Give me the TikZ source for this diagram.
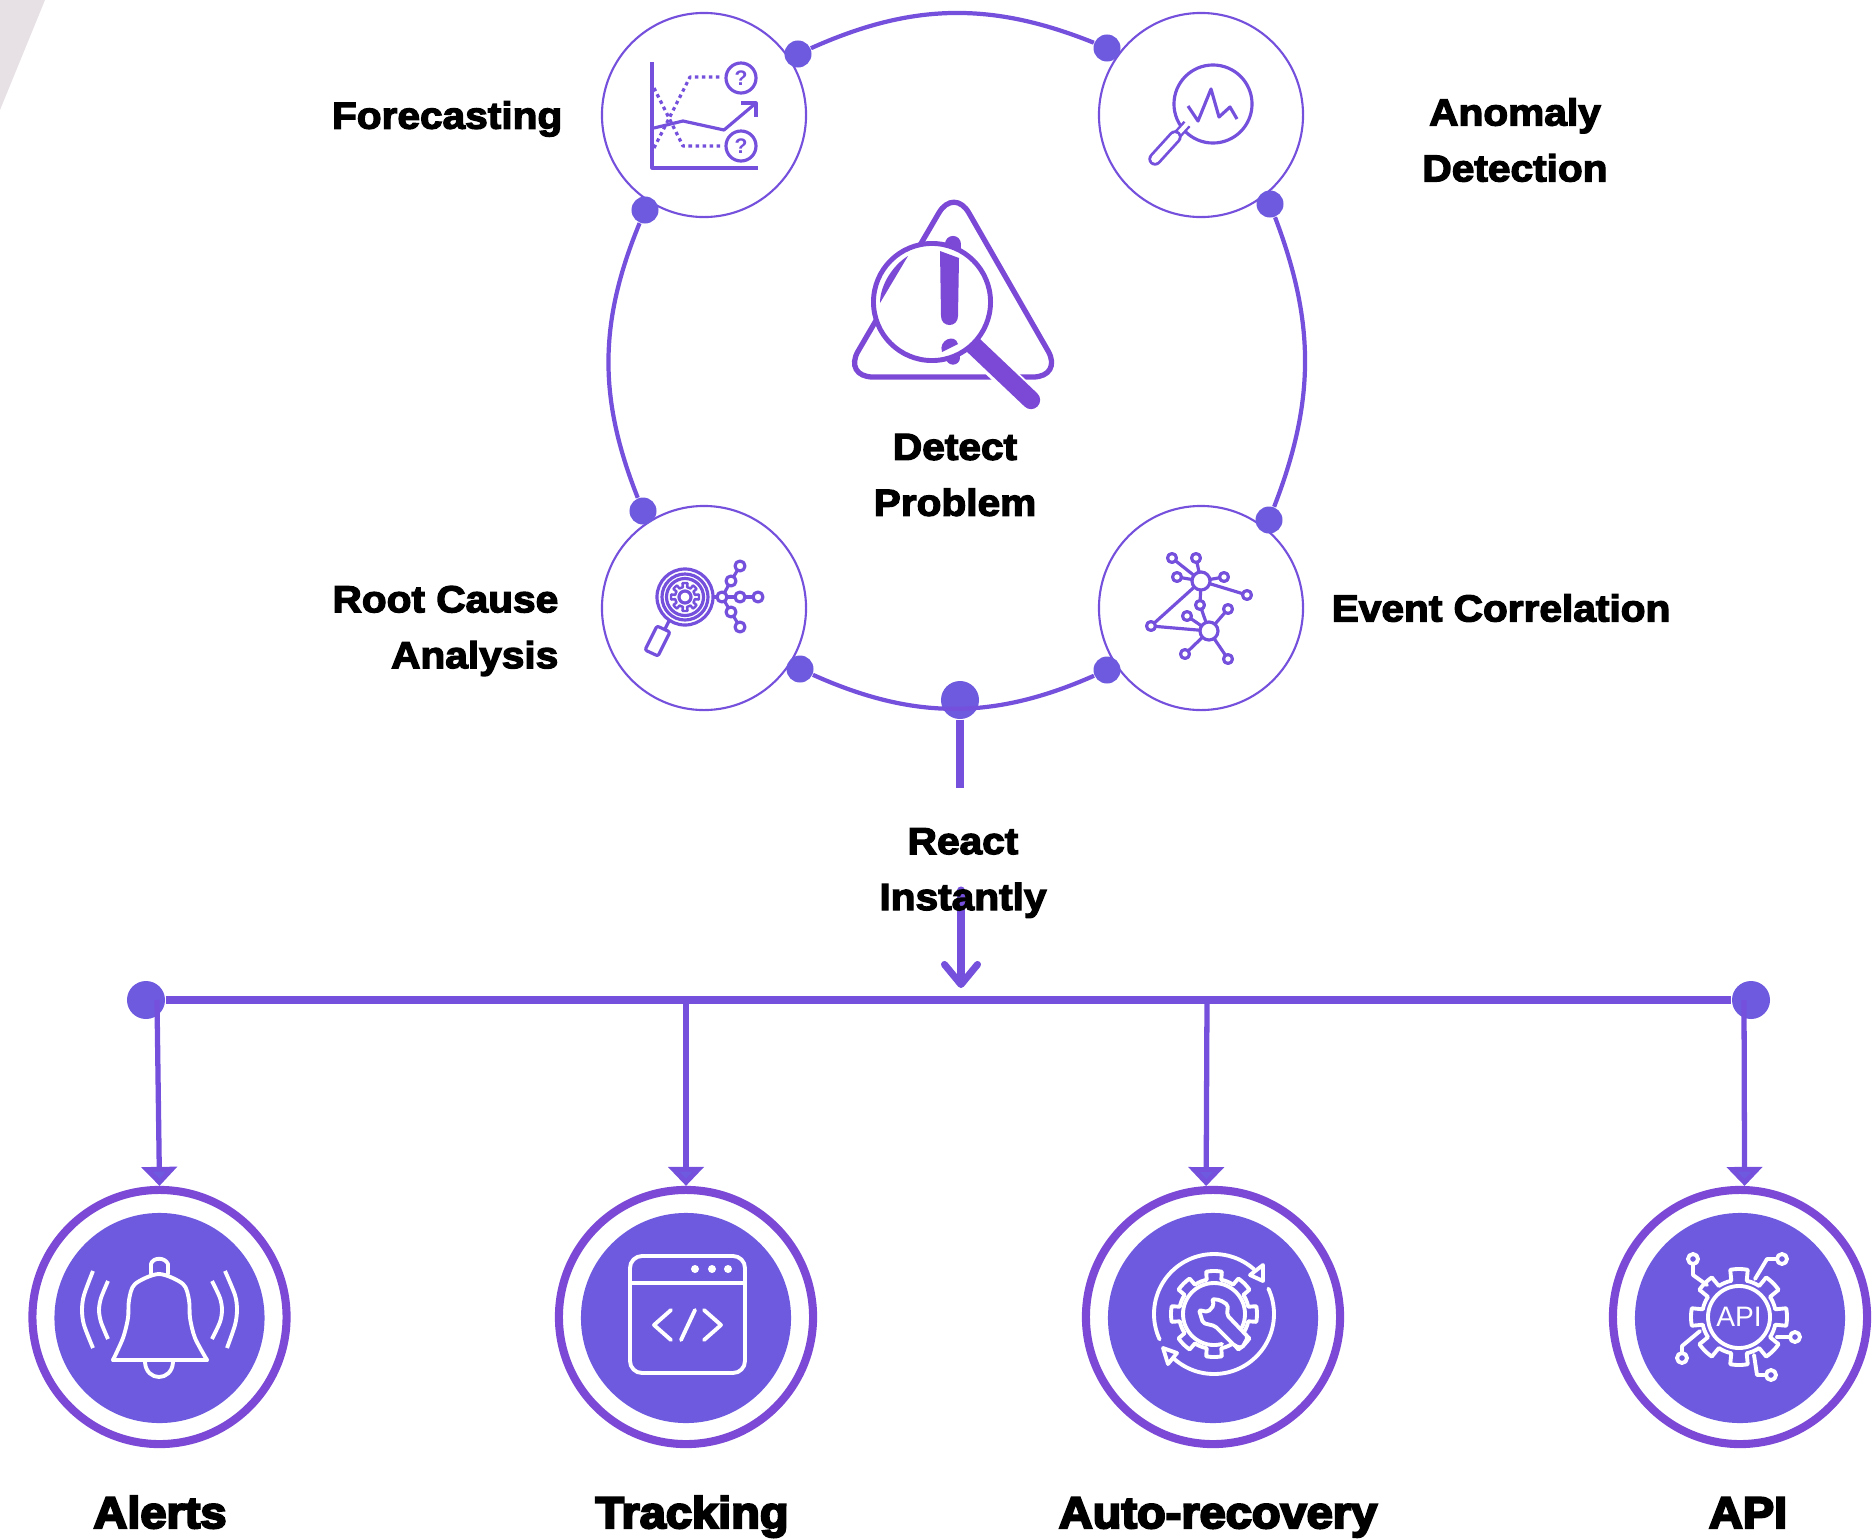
\documentclass[tikz,border=0pt]{standalone}
\usepackage{fontspec}
\usepackage{amssymb, amsmath}
\usepackage{tikz}
\usetikzlibrary{arrows.meta}
\setmainfont{Liberation Sans}
\newfontfamily\labelfont{Liberation Sans}[BoldFeatures={FakeBold=3.5,FakeStretch=1.08}]
\newfontfamily\bigfont{Liberation Sans}[BoldFeatures={FakeBold=5,FakeStretch=1.06}]
\definecolor{dotpurple}{HTML}{6E5ADF}
\definecolor{ringpurple}{HTML}{7B49D5}
\definecolor{linepurple}{HTML}{7450DC}
\definecolor{smudge}{HTML}{E7E1E5}
\tikzset{
  smallring/.style={circle, draw=linepurple, line width=0.6pt, fill=white, minimum size=2.04cm, inner sep=0},
  junction/.style={circle, fill=dotpurple, minimum size=0.27cm, inner sep=0},
  bigjunction/.style={circle, fill=dotpurple, minimum size=0.38cm, inner sep=0},
  bigring/.style={circle, draw=ringpurple, line width=2.3pt, fill=white, minimum size=2.54cm, inner sep=0},
  bigdisc/.style={circle, fill=dotpurple, minimum size=2.1cm, inner sep=0},
  arcline/.style={draw=linepurple, line width=1.2pt},
  busline/.style={draw=linepurple, line width=2pt},
  droparrow/.style={draw=linepurple, line width=1.5pt, -{Triangle[width=0.35cm,length=0.19cm,fill=dotpurple]}},
  iconline/.style={draw=linepurple, line width=0.9pt, line join=round},
  iconwhite/.style={draw=white, line width=1.1pt, line join=round, line cap=round},
  label/.style={font=\labelfont\bfseries\fontsize{10.7}{15.9}\selectfont, text=black, inner sep=0, align=center},
  biglabel/.style={font=\bigfont\bfseries\fontsize{12.6}{15}\selectfont, text=black, inner sep=0, anchor=base},
}
\newcommand{\gearcurve}[6]{\draw[#1] plot[domain=0:360,samples=241] ({#2+(#4+(#5-#4)*(cos(8*\x)>0))*cos(\x)},{#3+(#4+(#5-#4)*(cos(8*\x)>0))*sin(\x)}) -- cycle;}
\begin{document}
\begin{tikzpicture}[x=0.01cm, y=-0.01cm]
\useasboundingbox (0,0) rectangle (1875,1539);
\fill[smudge] (0,0) -- (45,0) -- (0,110) -- cycle;

% top ring
\node[smallring] (forecast) at (704,115) {};
\node[smallring] (anomaly) at (1201,115) {};
\node[smallring] (rootcause) at (704,608) {};
\node[smallring] (event) at (1201,608) {};
\node[junction] (dotA) at (798,54) {};
\node[junction] (dotB) at (1107,48) {};
\node[junction] (dotC) at (1270,204) {};
\node[junction] (dotD) at (1269,520) {};
\node[junction] (dotE) at (1107,670) {};
\node[junction] (dotF) at (800,669) {};
\node[junction] (dotG) at (643,511) {};
\node[junction] (dotH) at (645,210) {};
\node[bigjunction] (dotMain) at (960,700) {};
\draw[arcline] (dotA) to[bend left=23] (dotB);
\draw[arcline] (dotC) to[bend left=21] (dotD);
\draw[arcline] (dotE) to[bend left=24] (dotF);
\draw[arcline] (dotG) to[bend left=22] (dotH);

% stem and bus
\coordinate (stemEnd) at (960,788);
\coordinate (reactTop) at (961,890);
\coordinate (reactTip) at (961,988);
\draw[busline] (dotMain) -- (stemEnd);
\draw[busline, line cap=round, -{Straight Barb[round,length=0.2cm,width=0.33cm]}] (reactTop) -- (reactTip);
\node[bigjunction] (busLeft) at (146,1000) {};
\node[bigjunction] (busRight) at (1751,1000) {};
\draw[busline] (busLeft) -- (busRight);

% bottom row
\node[bigring] (alerts) at (159.5,1317) {};
\node[bigring] (tracking) at (686,1317) {};
\node[bigring] (recovery) at (1213,1317) {};
\node[bigring] (api) at (1740,1317) {};
\node[bigdisc] (alertsDisc) at (159.5,1318) {};
\node[bigdisc] (trackingDisc) at (686,1318) {};
\node[bigdisc] (recoveryDisc) at (1213,1318) {};
\node[bigdisc] (apiDisc) at (1740,1318) {};
\coordinate (tapA) at (157,1000);
\coordinate (tapB) at (686,1000);
\coordinate (tapC) at (1207,1000);
\coordinate (tapD) at (1744,1000);
\draw[droparrow] (tapA) -- (alerts.north);
\draw[droparrow] (tapB) -- (tracking.north);
\draw[droparrow] (tapC) -- (recovery.93);
\draw[droparrow] (tapD) -- (api.88);

% forecasting icon
\draw[iconline] (652,62) -- (652,168) -- (758,168);
\draw[iconline] (654,128) -- (683,121) -- (724,130) -- (756,103);
\draw[iconline] (741,103) -- (756,103) -- (756,117);
\draw[iconline, dash pattern=on 1pt off 1pt] (654,148) -- (690,77) -- (722,77);
\draw[iconline, dash pattern=on 1pt off 1pt] (654,88) -- (683,146) -- (722,146);
\draw[iconline] (741,78) circle (0.15cm);
\draw[iconline] (741,146) circle (0.15cm);
\node[text=linepurple, font=\bfseries\fontsize{6}{6}\selectfont, inner sep=0] (askA) at (741,78) {?};
\node[text=linepurple, font=\bfseries\fontsize{6}{6}\selectfont, inner sep=0] (askB) at (741,146) {?};

% anomaly icon
\draw[iconline] (1213,104) circle (0.39cm);
\draw[iconline] (1188,106) -- (1198,121) -- (1211,89) -- (1219,117) -- (1230,107) -- (1237,119);
\draw[draw=linepurple, line width=2.6pt] (1187,124) -- (1178,134);
\draw[draw=white, line width=1.2pt] (1188,123) -- (1177,135);
\draw[draw=linepurple, line width=3.8pt, line cap=round] (1175,137) -- (1155,159);
\draw[draw=white, line width=2.2pt, line cap=round] (1175,137) -- (1155,159);

% centre warning icon
\draw[draw=ringpurple, line width=1.5pt, rounded corners=0.3cm] (954,187) -- (1063,377) -- (843,377) -- cycle;
\draw[draw=ringpurple, line width=4.6pt, line cap=round] (953,244) -- (953,260);
\draw[draw=ringpurple, line width=3.8pt, line cap=round] (953,345) -- (953,358);
\draw[draw=white, line width=6.6pt] (980,353) -- (1024,394);
\draw[draw=ringpurple, line width=5.2pt, line cap=round] (972,344) -- (1031,400);
\draw[draw=ringpurple, line width=1.4pt, fill=white] (932,302) circle (0.585cm);
\fill[ringpurple] (908,256) .. controls (893,265) and (880,285) .. (880,303) -- cycle;
\fill[ringpurple] (940,251) -- (959,258) -- (958,316) .. controls (958,328) and (941,328) .. (941,316) -- cycle;
\fill[ringpurple] (942,352) .. controls (938,340) and (955,333) .. (958,344) -- cycle;

% root cause icon
\draw[iconline] (685,597) circle (0.28cm);
\draw[iconline] (685,597) circle (0.23cm);
\draw[iconline] (685,597) circle (0.185cm);
\gearcurve{iconline, line width=0.7pt}{685}{597}{10}{14}{}
\draw[iconline] (685,597) circle (0.06cm);
\draw[iconline] (670,619) -- (665,629);
\draw[iconline, rounded corners=0.02cm] (657,626) -- (670,632) -- (658,656) -- (645,650) -- cycle;
\draw[iconline] (712,597) -- (758,597);
\draw[iconline] (722,597) -- (731,581) -- (740,566);
\draw[iconline] (722,597) -- (731,612) -- (740,627);
\draw[iconline, fill=white] (722,597) circle (0.05cm);
\draw[iconline, fill=white] (740,597) circle (0.05cm);
\draw[iconline, fill=white] (758,597) circle (0.05cm);
\draw[iconline, fill=white] (731,581) circle (0.05cm);
\draw[iconline, fill=white] (740,566) circle (0.05cm);
\draw[iconline, fill=white] (731,612) circle (0.05cm);
\draw[iconline, fill=white] (740,627) circle (0.05cm);

% event correlation icon
\draw[iconline] (1201,581) -- (1172,558);
\draw[iconline] (1201,581) -- (1196,558);
\draw[iconline] (1201,581) -- (1177,577);
\draw[iconline] (1201,581) -- (1224,577);
\draw[iconline] (1201,581) -- (1247,595);
\draw[iconline] (1201,581) -- (1200,605);
\draw[iconline] (1201,581) -- (1151,626);
\draw[iconline] (1209,631) -- (1200,605);
\draw[iconline] (1209,631) -- (1187,616);
\draw[iconline] (1209,631) -- (1228,609);
\draw[iconline] (1209,631) -- (1185,654);
\draw[iconline] (1209,631) -- (1228,659);
\draw[iconline] (1209,631) -- (1151,626);
\draw[iconline, fill=white] (1201,581) circle (0.09cm);
\draw[iconline, fill=white] (1209,631) circle (0.09cm);
\draw[iconline, fill=white] (1172,558) circle (0.045cm);
\draw[iconline, fill=white] (1196,558) circle (0.045cm);
\draw[iconline, fill=white] (1177,577) circle (0.045cm);
\draw[iconline, fill=white] (1224,577) circle (0.045cm);
\draw[iconline, fill=white] (1247,595) circle (0.045cm);
\draw[iconline, fill=white] (1200,605) circle (0.045cm);
\draw[iconline, fill=white] (1187,616) circle (0.045cm);
\draw[iconline, fill=white] (1228,609) circle (0.045cm);
\draw[iconline, fill=white] (1185,654) circle (0.045cm);
\draw[iconline, fill=white] (1228,659) circle (0.045cm);
\draw[iconline, fill=white] (1151,626) circle (0.045cm);

% bell icon
\draw[iconwhite] plot[smooth] coordinates {(113,1360) (123,1338) (128,1318) (129,1300) (135,1284) (159,1274) (183,1284) (189,1300) (190,1318) (195,1338) (207,1360)};
\draw[iconwhite] (113,1360) -- (207,1360);
\draw[iconwhite] (151,1274) -- (151,1264) .. controls (153,1257) and (165,1257) .. (168,1264) -- (168,1274);
\draw[iconwhite] (145,1362) .. controls (146,1382) and (172,1382) .. (173,1362);
\draw[iconwhite, line cap=butt] plot[smooth] coordinates {(93,1271) (84,1295) (82,1310) (84,1325) (93,1348)};
\draw[iconwhite, line cap=butt] plot[smooth] coordinates {(108,1281) (101,1298) (99,1310) (101,1322) (108,1339)};
\draw[iconwhite, line cap=butt] plot[smooth] coordinates {(225,1271) (235,1295) (237,1310) (235,1325) (227,1348)};
\draw[iconwhite, line cap=butt] plot[smooth] coordinates {(212,1281) (220,1298) (222,1310) (220,1322) (212,1339)};

% window icon
\draw[iconwhite, rounded corners=0.12cm] (630,1256) rectangle (745,1373);
\draw[iconwhite] (630,1283) -- (745,1283);
\fill[white] (695,1269) circle (0.04cm);
\fill[white] (712,1269) circle (0.04cm);
\fill[white] (728,1269) circle (0.04cm);
\draw[iconwhite] (671,1310) -- (654,1325) -- (671,1340);
\draw[iconwhite] (695,1310) -- (681,1340);
\draw[iconwhite] (704,1310) -- (721,1325) -- (704,1340);

% recovery icon
\draw[iconwhite] plot[domain=155:312,samples=50] ({1214+60*cos(\x)},{1314+60*sin(\x)});
\draw[iconwhite] plot[domain=-25:132,samples=50] ({1214+60*cos(\x)},{1314+60*sin(\x)});
\draw[iconwhite] (1263,1265) -- (1250,1275) -- (1263,1281) -- cycle;
\draw[iconwhite] (1163,1348) -- (1168,1364) -- (1177,1353) -- cycle;
\gearcurve{iconwhite}{1214}{1314}{35}{43}{}
\draw[iconwhite] plot[domain=75:386,samples=60] ({1214+31*cos(\x)},{1314+31*sin(\x)});
\draw[iconwhite, fill=dotpurple, rounded corners=0.02cm] (1199,1310) -- (1203,1323) -- (1215,1326) -- (1235,1346) -- (1242,1348) -- (1248,1337) -- (1227,1315) -- (1228,1305) -- (1220,1300) -- (1212,1299) -- (1214,1305) -- (1208,1312) -- cycle;

% api icon
\gearcurve{iconwhite}{1739}{1317}{37}{48}{}
\draw[iconwhite] (1739,1317) circle (0.31cm);
\node[text=white, font=\fontsize{8}{8}\selectfont, inner sep=0] (apiMark) at (1739,1317) {API};
\draw[iconwhite] (1693,1259) circle (0.05cm);
\draw[iconwhite] (1693,1264) -- (1693,1275) -- (1707,1285);
\draw[iconwhite] (1782,1259) circle (0.05cm);
\draw[iconwhite] (1777,1259) -- (1767,1259) -- (1755,1279);
\draw[iconwhite] (1795,1337) circle (0.05cm);
\draw[iconwhite] (1789,1337) -- (1777,1337);
\draw[iconwhite] (1771,1375) circle (0.05cm);
\draw[iconwhite] (1765,1375) -- (1757,1375) -- (1754,1355);
\draw[iconwhite] (1682,1358) circle (0.05cm);
\draw[iconwhite] (1682,1352) -- (1682,1346) -- (1700,1331);

% labels
\node[label, anchor=east] (forecastLabel) at (563,119) {Forecasting};
\node[label] (anomalyLabel) at (1515,140) {Anomaly\\Detection};
\node[label, anchor=east, align=right] (rootLabel) at (559,631) {Root Cause\\Analysis};
\node[label, anchor=west] (eventLabel) at (1331,608) {Event Correlation};
\node[label] (detectLabel) at (955,475) {Detect\\Problem};
\node[label] (reactLabel) at (963,873) {React\\Instantly};
\node[biglabel] (alertsLabel) at (160,1528) {Alerts};
\node[biglabel] (trackingLabel) at (692,1528) {Tracking};
\node[biglabel] (recoveryLabel) at (1218,1528) {Auto-recovery};
\node[biglabel] (apiLabel) at (1748,1528) {API};
\end{tikzpicture}
\end{document}
